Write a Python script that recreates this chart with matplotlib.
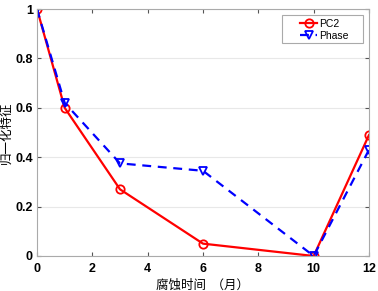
import matplotlib
matplotlib.use("Agg")
import matplotlib.pyplot as plt
from matplotlib.patches import Rectangle

x_months = [0, 1, 3, 6, 10, 12]
pc2 = [1.0, 0.60, 0.27, 0.05, 0.0, 0.49]
phase = [1.0, 0.62, 0.375, 0.345, 0.0, 0.43]
xticks = [0, 2, 4, 6, 8, 10, 12]
yticks = [0, 0.2, 0.4, 0.6, 0.8, 1.0]
yticklabels = ["0", "0.2", "0.4", "0.6", "0.8", "1"]

plt.rcParams['font.family'] = ['Liberation Sans', 'Noto Sans CJK SC', 'DejaVu Sans']

W, H = 378, 291
AX_L, AX_R, AX_T, AX_B = 37, 369, 9, 256

fig = plt.figure(figsize=(W / 100, H / 100), dpi=100)
ax = fig.add_axes([AX_L / W, 1 - AX_B / H, (AX_R - AX_L) / W, (AX_B - AX_T) / H])

ax.plot(x_months, pc2, color='red', lw=1.6, marker='o', ms=6, mfc='none', mec='red', mew=1.3, label='PC2')
ax.plot(x_months, phase, color='blue', lw=1.6, ls=(0, (4, 3)), marker='v', ms=6, mfc='none', mec='blue', mew=1.3, label='Phase')

ax.set_xlim(0, 12)
ax.set_ylim(0, 1)
ax.set_xticks(xticks)
ax.set_yticks(yticks)
ax.set_yticklabels(yticklabels)
ax.tick_params(direction='in', length=3, labelsize=9, colors='#555555', labelcolor='black', top=True, right=True)
ax.tick_params(axis='x', pad=5)
ax.tick_params(axis='y', pad=3)
for lbl in ax.get_xticklabels() + ax.get_yticklabels():
    lbl.set_fontweight('bold')
ax.grid(axis='y', color='#e8e8e8', lw=0.8)
ax.set_axisbelow(True)
for s in ax.spines.values():
    s.set_color('#aaaaaa')
    s.set_linewidth(0.8)

ax.set_xlabel('腐蚀时间  （月）', family=['Noto Sans CJK SC'], fontsize=9, labelpad=3)
ax.set_ylabel('归一化特征', family=['Noto Sans CJK SC'], fontsize=9, labelpad=2)

def px2ax(px, py):
    return (px - AX_L) / (AX_R - AX_L), (AX_B - py) / (AX_B - AX_T)

# legend frame (MATLAB-style, wide)
bx0, by0 = px2ax(282, 43)
bx1, by1 = px2ax(363, 15)
ax.add_patch(Rectangle((bx0, by0), bx1 - bx0, by1 - by0, transform=ax.transAxes,
                       facecolor='white', edgecolor='#aaaaaa', lw=0.8, zorder=4))

lx, ly = px2ax(296, 15)
leg = ax.legend(loc='upper left', bbox_to_anchor=(lx, ly), borderaxespad=0, fontsize=7.5,
                frameon=False, handlelength=1.7, borderpad=0.35, labelspacing=0.2, handletextpad=0.2)
leg.set_zorder(5)

fig.savefig('out.png', dpi=100)
